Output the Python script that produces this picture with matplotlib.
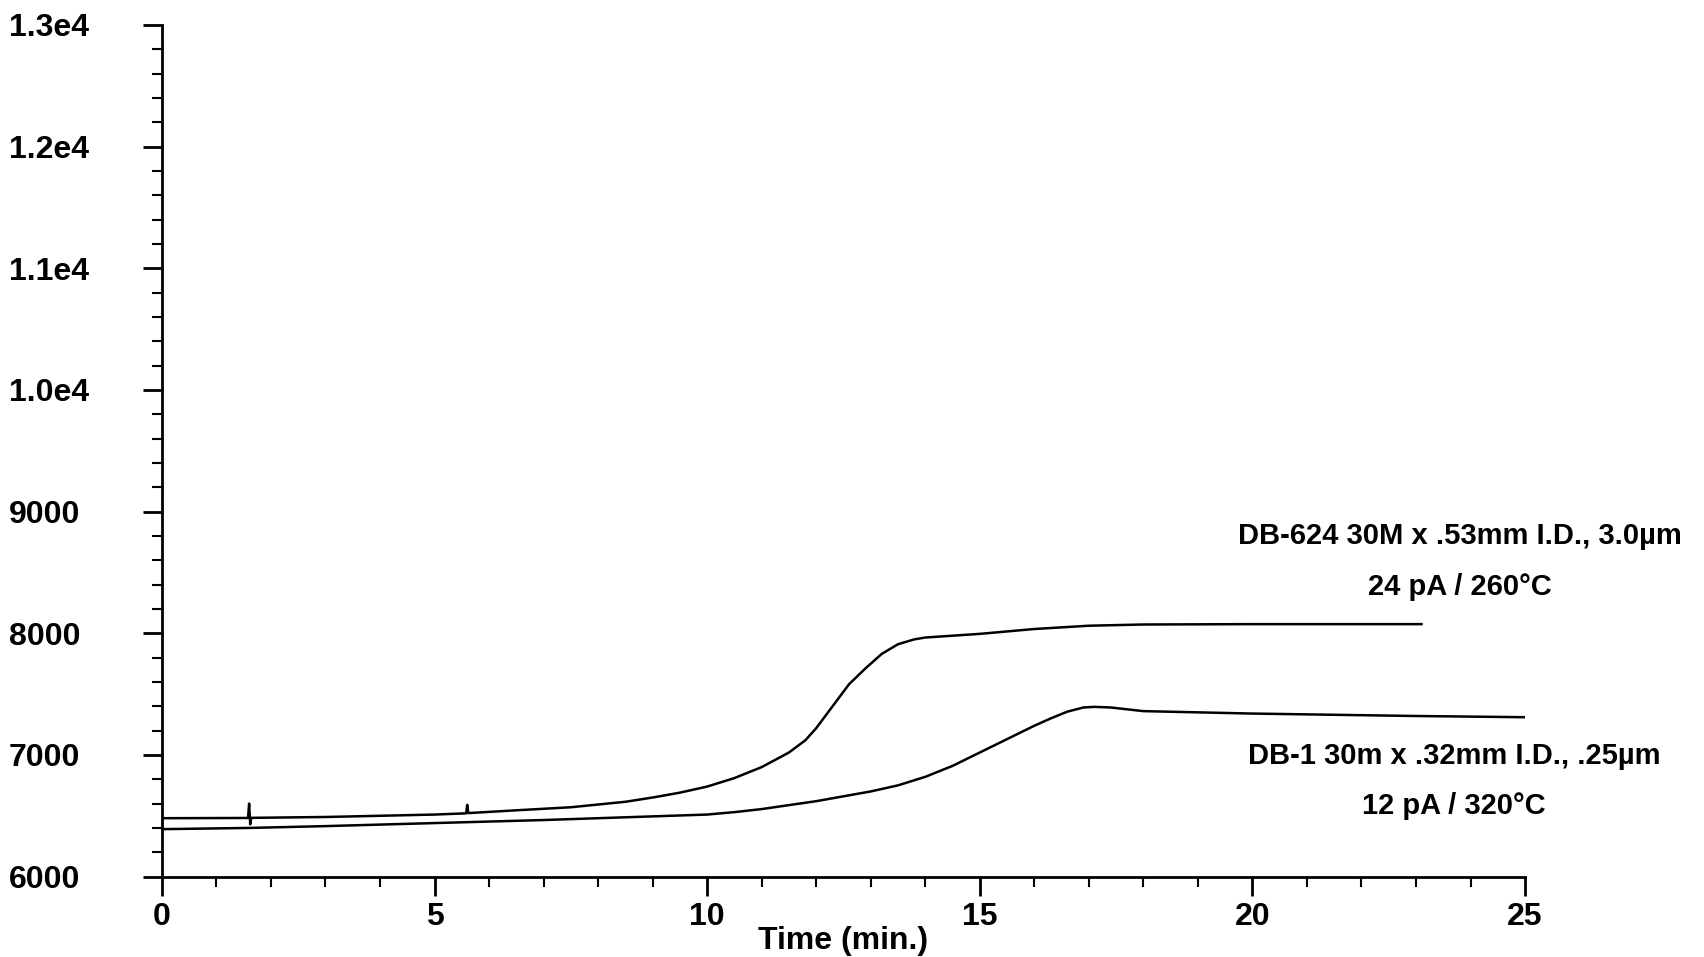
import numpy as np
from matplotlib import pyplot as plt
from matplotlib.ticker import MultipleLocator, FuncFormatter

plt.rcParams['font.family'] = ['Liberation Sans', 'DejaVu Sans']
plt.rcParams['font.weight'] = 'bold'

# DB-624 trace (upper)
t624 = [0, 1.58, 1.6, 1.62, 1.64, 3, 5, 5.58, 5.6, 5.62, 6.5, 7.5, 8.5, 9, 9.5, 10, 10.5, 11, 11.5, 11.8, 12, 12.3, 12.6, 12.9, 13.2, 13.5, 13.8, 14, 14.5, 15, 16, 17, 18, 20, 23.1]
y624 = [6480, 6482, 6600, 6430, 6483, 6490, 6510, 6520, 6590, 6522, 6545, 6570, 6615, 6650, 6690, 6740, 6810, 6900, 7020, 7120, 7220, 7400, 7580, 7710, 7830, 7910, 7950, 7965, 7980, 7995, 8035, 8062, 8072, 8075, 8075]
# DB-1 trace (lower)
t1 = [0, 1.6, 3, 5, 7, 8, 9, 10, 10.5, 11, 12, 13, 13.5, 14, 14.5, 15, 15.5, 16, 16.3, 16.6, 16.9, 17.1, 17.4, 18, 20, 23, 25]
y1 = [6390, 6400, 6415, 6440, 6465, 6480, 6495, 6510, 6530, 6555, 6620, 6700, 6750, 6820, 6910, 7020, 7130, 7240, 7300, 7355, 7390, 7395, 7390, 7360, 7340, 7320, 7310]

fig = plt.figure(figsize=(17.04, 9.57), dpi=100)
ax = fig.add_axes([0.095, 0.084, 0.8, 0.89])
ax.plot(t624, y624, color='black', lw=1.8)
ax.plot(t1, y1, color='black', lw=1.8)

ax.set_xlim(0, 25)
ax.set_ylim(6000, 13000)
ax.xaxis.set_major_locator(MultipleLocator(5))
ax.xaxis.set_minor_locator(MultipleLocator(1))
ax.yaxis.set_major_locator(MultipleLocator(1000))
ax.yaxis.set_minor_locator(MultipleLocator(200))

def yfmt(v, pos):
    if v >= 10000:
        return f"{v/10000:.1f}e4"
    return f"{int(v)}"
ax.yaxis.set_major_formatter(FuncFormatter(yfmt))

for s in ['top', 'right']:
    ax.spines[s].set_visible(False)
for s in ['left', 'bottom']:
    ax.spines[s].set_linewidth(2)
ax.tick_params(which='major', length=14, width=2, labelsize=23, pad=4)
ax.tick_params(which='minor', length=7, width=1.5)
ax.tick_params(axis='y', pad=96)
for lab in ax.get_yticklabels():
    lab.set_horizontalalignment('left')
ax.set_xlabel('Time (min.)', fontsize=23, fontweight='bold', labelpad=-4)

fs = 21
ax.text(23.8, 8800, 'DB-624 30M x .53mm I.D., 3.0µm', ha='center', va='center', fontsize=fs, fontweight='bold')
ax.text(23.8, 8380, '24 pA / 260°C', ha='center', va='center', fontsize=fs, fontweight='bold')
ax.text(23.7, 6990, 'DB-1 30m x .32mm I.D., .25µm', ha='center', va='center', fontsize=fs, fontweight='bold')
ax.text(23.7, 6580, '12 pA / 320°C', ha='center', va='center', fontsize=fs, fontweight='bold')

fig.savefig('out.png', dpi=100)
